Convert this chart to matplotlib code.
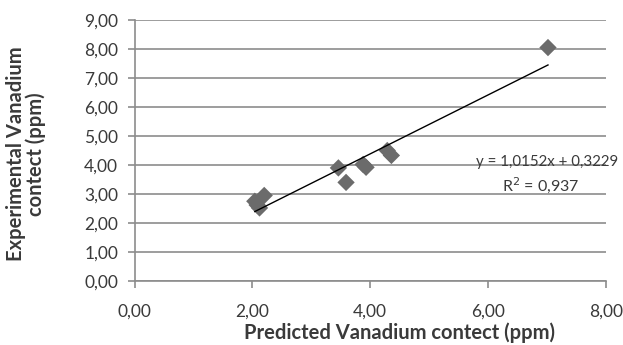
import numpy as np
import matplotlib.pyplot as plt

plt.rcParams["font.family"] = ["Lato", "DejaVu Sans"]

# Predicted vs experimental vanadium content (ppm)
predicted = [2.04, 2.08, 2.12, 2.20, 3.46, 3.59, 3.88, 3.93, 4.29, 4.36, 7.02]
experimental = [2.75, 2.62, 2.52, 2.95, 3.90, 3.40, 4.02, 3.92, 4.50, 4.33, 8.05]

# Linear trendline
slope = 1.0152
intercept = 0.3229
r_squared = 0.937

x_ticks = [0, 2, 4, 6, 8]
y_ticks = list(range(0, 10))

grey = "#8c8c8c"
text_col = "#3a3a3a"

fig = plt.figure(figsize=(6.23, 3.45), dpi=100)
ax = fig.add_axes([0.2162, 0.1855, 0.7560, 0.7565])

ax.set_xlim(0, 8)
ax.set_ylim(0, 9)
ax.set_xticks(x_ticks)
ax.set_yticks(y_ticks)
ax.set_xticklabels([f"{v:.2f}".replace(".", ",") for v in x_ticks])
ax.set_yticklabels([f"{v:.2f}".replace(".", ",") for v in y_ticks])

ax.grid(axis="y", color=grey, linewidth=1.2)
ax.set_axisbelow(True)
for side in ["top", "right"]:
    ax.spines[side].set_visible(False)
for side in ["left", "bottom"]:
    ax.spines[side].set_color(grey)
    ax.spines[side].set_linewidth(1.2)
ax.tick_params(axis="both", direction="out", length=5, width=1.2, color=grey,
               labelsize=12.5, labelcolor=text_col)
ax.tick_params(axis="y", pad=7)
ax.tick_params(axis="x", pad=11)

ax.scatter(predicted, experimental, marker="D", s=78, color="#6b6b6b",
           edgecolors="none", zorder=3)

xs = np.array([min(predicted), max(predicted)])
ax.plot(xs, slope * xs + intercept, color="black", linewidth=1.0, zorder=4)

eq = f"y = {slope:.4f}x + {intercept:.4f}".replace(".", ",")
fig.text(618 / 623, 1 - 162 / 345, eq, ha="right", va="center",
         fontsize=10.8, color=text_col)
fig.text(541 / 623, 1 - 185 / 345, f"R$^2$ = {r_squared:.3f}".replace(".", ","),
         ha="center", va="center", fontsize=11.5, color=text_col)

# axis titles placed in figure pixels
fig.text(400 / 623, 1 - 333 / 345, "Predicted Vanadium contect (ppm)",
         ha="center", va="center", fontsize=14.5, fontweight="bold",
         color=text_col)
fig.text(26 / 623, 1 - 154 / 345, "Experimental Vanadium\ncontect (ppm)",
         ha="center", va="center", rotation=90, fontsize=14.5,
         fontweight="bold", color=text_col, linespacing=1.0)

fig.savefig("out.png", dpi=100)
